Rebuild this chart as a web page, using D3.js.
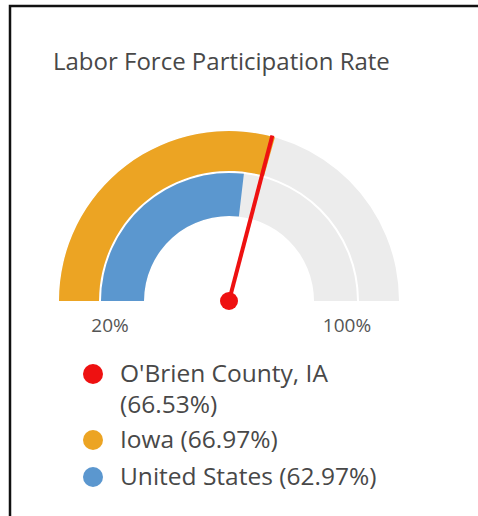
<!DOCTYPE html>
<html>
<head>
<meta charset="utf-8">
<script src="https://cdn.jsdelivr.net/npm/d3@7"></script>
<style>
  html, body { margin: 0; padding: 0; background: #fff; }
  svg { display: block; }
</style>
</head>
<body>
<div class="gauge"></div>
<script>
const title = "Labor Force Participation Rate"
const seriesNames = ["O'Brien County, IA", "Iowa", "United States"]
const seriesValues = [66.53, 66.97, 62.97]
const seriesColors = ["#ee1111", "#eca423", "#5b97cf"]
const scaleDomain = [20, 100]
const tickLabels = ["20%", "100%"]

const width = 478
const height = 516
const center = { x: 229, y: 301 }

d3.select(".gauge > *").remove()

const svg = d3.select(".gauge").append("svg")
  .attr("width", width)
  .attr("height", height)
  .attr("viewBox", `0 0 ${width} ${height}`)

// frame (only top and left edges show in the crop)
svg.append("path")
  .attr("d", "M10,516 V6 H478")
  .attr("fill", "none")
  .attr("stroke", "#111")
  .attr("stroke-width", 2.5)

svg.append("text")
  .attr("x", 53)
  .attr("y", 70)
  .attr("font-family", "'Open Sans', sans-serif")
  .attr("font-size", 24)
  .attr("fill", "#484848")
  .text(title)

const angle = d3.scaleLinear().domain(scaleDomain).range([-Math.PI / 2, Math.PI / 2])

const rings = [
  { inner: 130, outer: 170, idx: 1 }, // Iowa
  { inner: 85, outer: 128, idx: 2 }   // United States
]

const graph = svg.append("g").attr("transform", `translate(${center.x}, ${center.y})`)

const arc = d3.arc()

rings.forEach(r => {
  graph.append("path")
    .attr("fill", "#ececec")
    .attr("d", arc({ innerRadius: r.inner, outerRadius: r.outer, startAngle: angle(scaleDomain[0]), endAngle: angle(scaleDomain[1]) }))
  graph.append("path")
    .attr("fill", seriesColors[r.idx])
    .attr("d", arc({ innerRadius: r.inner, outerRadius: r.outer, startAngle: angle(scaleDomain[0]), endAngle: angle(seriesValues[r.idx]) }))
})

// needle for the county
const a = angle(seriesValues[0])
const needleLen = 171
graph.append("line")
  .attr("x1", 0).attr("y1", 0)
  .attr("x2", needleLen * Math.sin(a))
  .attr("y2", -needleLen * Math.cos(a))
  .attr("stroke", seriesColors[0])
  .attr("stroke-width", 4)
graph.append("circle").attr("r", 9).attr("fill", seriesColors[0])

// end labels
graph.selectAll(".tick")
  .data(tickLabels)
  .enter().append("text")
  .attr("x", (d, i) => i === 0 ? -119 : 118)
  .attr("y", 31)
  .attr("text-anchor", "middle")
  .attr("font-family", "'Open Sans', sans-serif")
  .attr("font-size", 19)
  .attr("fill", "#555")
  .text(d => d)

// legend
const legendLines = [
  [seriesNames[0], `(${seriesValues[0].toFixed(2)}%)`],
  [`${seriesNames[1]} (${seriesValues[1].toFixed(2)}%)`],
  [`${seriesNames[2]} (${seriesValues[2].toFixed(2)}%)`]
]
const legendY = [374, 440, 477]

const legend = svg.append("g")
legendLines.forEach((lines, i) => {
  legend.append("circle")
    .attr("cx", 93)
    .attr("cy", legendY[i])
    .attr("r", 10)
    .attr("fill", seriesColors[i])
  const t = legend.append("text")
    .attr("x", 120)
    .attr("y", legendY[i] + 8)
    .attr("font-family", "'Open Sans', sans-serif")
    .attr("font-size", 24.5)
    .attr("fill", "#484848")
  lines.forEach((l, j) => {
    t.append("tspan").attr("x", 120).attr("dy", j === 0 ? 0 : 31).text(l)
  })
})
</script>
</body>
</html>
